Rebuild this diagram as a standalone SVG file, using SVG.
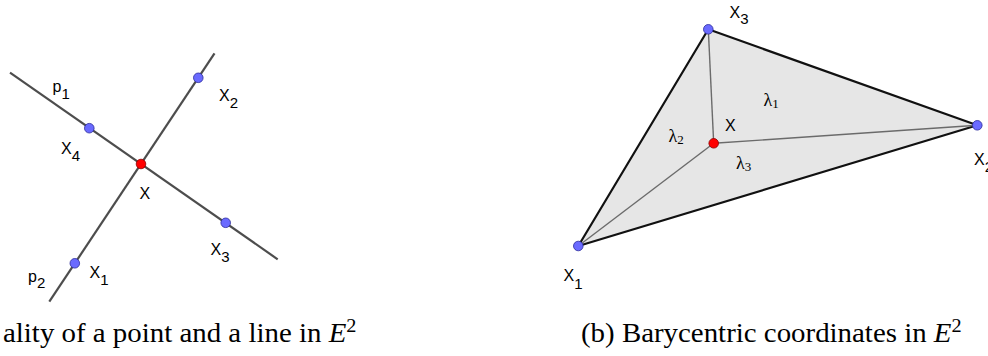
<svg xmlns="http://www.w3.org/2000/svg" width="988" height="356" viewBox="0 0 988 356">
<defs>
<style>
.line{stroke:#4d4d4d;stroke-width:2.2;fill:none}
.tri{fill:#e6e6e6;stroke:#111;stroke-width:2.2;stroke-linejoin:round}
.inner{stroke:#6b6b6b;stroke-width:1.4;fill:none}
.pt{fill:#6a6aff;stroke:#2b2b9a;stroke-width:0.8}
.red{fill:#ff0000;stroke:#8a0000;stroke-width:0.8}
.lbl{font-family:"Liberation Sans",Arial,sans-serif;font-size:16px;fill:#000}
.sub{font-size:15px}
.lam{font-family:"Liberation Serif","DejaVu Serif",serif;font-size:18px;fill:#000}
.lsub{font-size:13px}
.cap{font-family:"Liberation Serif","Times New Roman",serif;font-size:27px;fill:#000}
</style>
</defs>
<g id="connectors">
<line class="line" x1="10" y1="72.7" x2="277.7" y2="259.3"/>
<line class="line" x1="214.5" y1="53.3" x2="49.3" y2="301.7"/>
</g>
<g id="triangle">
<polygon class="tri" points="708.3,29.3 977.3,125.3 578.3,246"/>
<line class="inner" x1="713.7" y1="143.3" x2="708.3" y2="29.3"/>
<line class="inner" x1="713.7" y1="143.3" x2="977.3" y2="125.3"/>
<line class="inner" x1="713.7" y1="143.3" x2="578.3" y2="246"/>
</g>
<g id="node-X-left"><circle class="red" cx="141" cy="164" r="4.8"/><text class="lbl" x="139.5" y="199">X</text></g>
<g id="node-X1-left"><circle class="pt" cx="74.8" cy="263.3" r="4.8"/><text class="lbl" x="89.5" y="278">X<tspan class="sub" dy="7">1</tspan></text></g>
<g id="node-X2-left"><circle class="pt" cx="198.3" cy="77.8" r="4.8"/><text class="lbl" x="219" y="101">X<tspan class="sub" dy="7">2</tspan></text></g>
<g id="node-X3-left"><circle class="pt" cx="225.7" cy="222.8" r="4.8"/><text class="lbl" x="210.5" y="255">X<tspan class="sub" dy="7">3</tspan></text></g>
<g id="node-X4-left"><circle class="pt" cx="89.3" cy="128.2" r="4.8"/><text class="lbl" x="61" y="153.5">X<tspan class="sub" dy="7">4</tspan></text></g>
<g id="label-p1"><text class="lbl" x="52.5" y="92">p<tspan class="sub" dy="7">1</tspan></text></g>
<g id="label-p2"><text class="lbl" x="28" y="281.5">p<tspan class="sub" dy="6">2</tspan></text></g>
<g id="node-X3-right"><circle class="pt" cx="708.3" cy="29.3" r="4.8"/><text class="lbl" x="729.5" y="17.5">X<tspan class="sub" dy="6">3</tspan></text></g>
<g id="node-X2-right"><circle class="pt" cx="977.3" cy="125.3" r="4.8"/><text class="lbl" x="974" y="164.5">X<tspan class="sub" dy="7">2</tspan></text></g>
<g id="node-X1-right"><circle class="pt" cx="578.3" cy="246" r="4.8"/><text class="lbl" x="563.5" y="280.5">X<tspan class="sub" dy="8">1</tspan></text></g>
<g id="node-X-right"><circle class="red" cx="713.7" cy="143.3" r="4.8"/><text class="lbl" x="725" y="131">X</text></g>
<g id="lambdas">
<text class="lam" x="763.5" y="106">λ<tspan class="lsub" dy="2">1</tspan></text>
<text class="lam" x="668.5" y="142">λ<tspan class="lsub" dy="2">2</tspan></text>
<text class="lam" x="736" y="168.5">λ<tspan class="lsub" dy="2">3</tspan></text>
</g>
<g id="captions">
<text class="cap" transform="scale(1.07,1)" x="2.8" y="342">ality of a point and a line in <tspan font-style="italic">E</tspan><tspan font-size="19" dy="-10">2</tspan></text>
<text class="cap" transform="scale(1.07,1)" x="543" y="342">(b) Barycentric coordinates in <tspan font-style="italic">E</tspan><tspan font-size="19" dy="-10">2</tspan></text>
</g>
</svg>
